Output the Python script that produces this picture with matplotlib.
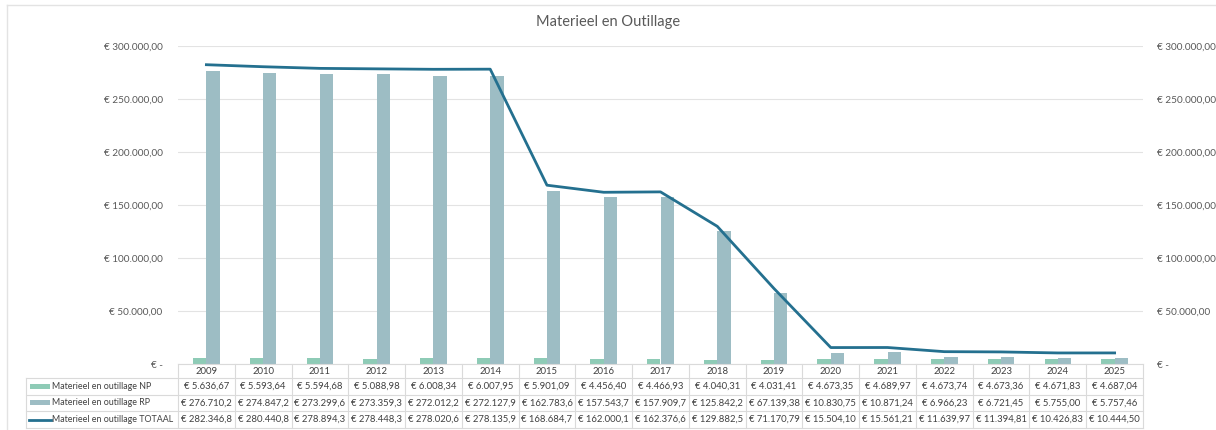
import matplotlib
matplotlib.use("Agg")
import matplotlib.pyplot as plt
from matplotlib.lines import Line2D
from matplotlib.patches import Rectangle
import numpy as np

plt.rcParams['font.family'] = ['Lato', 'DejaVu Sans']

# data
years = [str(y) for y in range(2009, 2026)]
np_vals = [5636.67, 5593.64, 5594.68, 5088.98, 6008.34, 6007.95, 5901.09, 4456.40, 4466.93,
           4040.31, 4031.41, 4673.35, 4689.97, 4673.74, 4673.36, 4671.83, 4687.04]
rp_vals = [276710.2, 274847.2, 273299.6, 273359.3, 272012.2, 272127.9, 162783.6, 157543.7, 157909.7,
           125842.2, 67139.38, 10830.75, 10871.24, 6966.23, 6721.45, 5755.00, 5757.46]
tot_vals = [282346.8, 280440.8, 278894.3, 278448.3, 278020.6, 278135.9, 168684.7, 162000.1, 162376.6,
            129882.5, 71170.79, 15504.10, 15561.21, 11639.97, 11394.81, 10426.83, 10444.50]
series_names = ['Materieel en outillage NP', 'Materieel en outillage RP', 'Materieel en outillage TOTAAL']
title = 'Materieel en Outillage'

c_np = '#8ecbb6'
c_rp = '#9dbdc4'
c_tot = '#24708f'
c_txt = '#595959'
c_grid = '#e3e3e3'

W, H = 1216, 430
fig = plt.figure(figsize=(W / 100, H / 100), dpi=100)

def fx(x):
    return x / W

def fy(y):
    return 1 - y / H

# plot area in pixels
x0, x1 = 178, 1143
ytop, ybot = 46, 364
ax = fig.add_axes([fx(x0), fy(ybot), fx(x1 - x0), (ybot - ytop) / H])
n = len(years)
xs = np.arange(n)
bw = 0.235
ax.bar(xs - bw / 2, np_vals, bw, color=c_np, zorder=2)
ax.bar(xs + bw / 2, rp_vals, bw, color=c_rp, zorder=2)
ax.plot(xs, tot_vals, color=c_tot, lw=2, zorder=3)
ax.set_xlim(-0.5, n - 0.5)
ax.set_ylim(0, 300000)
ax.set_yticks(np.arange(0, 300001, 50000))
ax.grid(axis='y', color=c_grid, lw=0.8, zorder=0)
for s in ax.spines.values():
    s.set_visible(False)
ax.tick_params(length=0)
ax.set_xticks([])

def eur_axis(v):
    if v == 0:
        return '€ -'
    s = f'{v:,.2f}'.replace(',', 'X').replace('.', ',').replace('X', '.')
    return '€ ' + s

ax.set_yticklabels([eur_axis(v) for v in ax.get_yticks()], fontsize=7.2, color=c_txt)
ax.tick_params(axis='y', pad=11)
ax2 = ax.twinx()
ax2.set_ylim(0, 300000)
ax2.set_yticks(np.arange(0, 300001, 50000))
ax2.set_yticklabels([eur_axis(v) for v in ax2.get_yticks()], fontsize=7.2, color=c_txt)
ax2.tick_params(length=0, pad=10)
for s in ax2.spines.values():
    s.set_visible(False)

fig.text(0.5, fy(22), title, ha='center', va='center', fontsize=10.5, color=c_txt)

# chart border
fig.add_artist(Line2D([fx(7), 1], [fy(5), fy(5)], color=c_grid, lw=1))
fig.add_artist(Line2D([fx(7), fx(7)], [fy(5), 0], color=c_grid, lw=1))

# data table
def eur_cell(v):
    d = 1 if v >= 100000 else 2
    s = f'{v:,.{d}f}'.replace(',', 'X').replace('.', ',').replace('X', '.')
    return '€ ' + s

rows_y = [364, 378, 394.5, 411, 428]
col_w = (x1 - x0) / n
lab_x0 = 26
tbl_col = '#dadada'
tsize = 6.8
# horizontal lines
fig.add_artist(Line2D([fx(x0), fx(x1)], [fy(rows_y[0]), fy(rows_y[0])], color=tbl_col, lw=0.8))
for yy in rows_y[1:]:
    fig.add_artist(Line2D([fx(lab_x0), fx(x1)], [fy(yy), fy(yy)], color=tbl_col, lw=0.8))
# vertical lines
fig.add_artist(Line2D([fx(lab_x0), fx(lab_x0)], [fy(rows_y[1]), fy(rows_y[-1])], color=tbl_col, lw=0.8))
for i in range(n + 1):
    xx = x0 + i * col_w
    fig.add_artist(Line2D([fx(xx), fx(xx)], [fy(rows_y[0]), fy(rows_y[-1])], color=tbl_col, lw=0.8))

for i, yr in enumerate(years):
    cx = x0 + (i + 0.5) * col_w
    fig.text(fx(cx), fy((rows_y[0] + rows_y[1]) / 2), yr, ha='center', va='center', fontsize=tsize, color='#404040')
    for r, vals in enumerate([np_vals, rp_vals, tot_vals]):
        cy = (rows_y[r + 1] + rows_y[r + 2]) / 2
        fig.text(fx(cx), fy(cy), eur_cell(vals[i]), ha='center', va='center', fontsize=tsize, color='#404040')

for r, name in enumerate(series_names):
    cy = (rows_y[r + 1] + rows_y[r + 2]) / 2
    if r < 2:
        fig.add_artist(Rectangle((fx(30), fy(cy + 2.5)), fx(20), 5 / H, color=[c_np, c_rp][r], lw=0))
    else:
        fig.add_artist(Line2D([fx(29), fx(51)], [fy(cy), fy(cy)], color=c_tot, lw=2))
    fig.text(fx(52), fy(cy), name, ha='left', va='center', fontsize=6.4, color='#404040')

fig.savefig('out.png', dpi=100)
